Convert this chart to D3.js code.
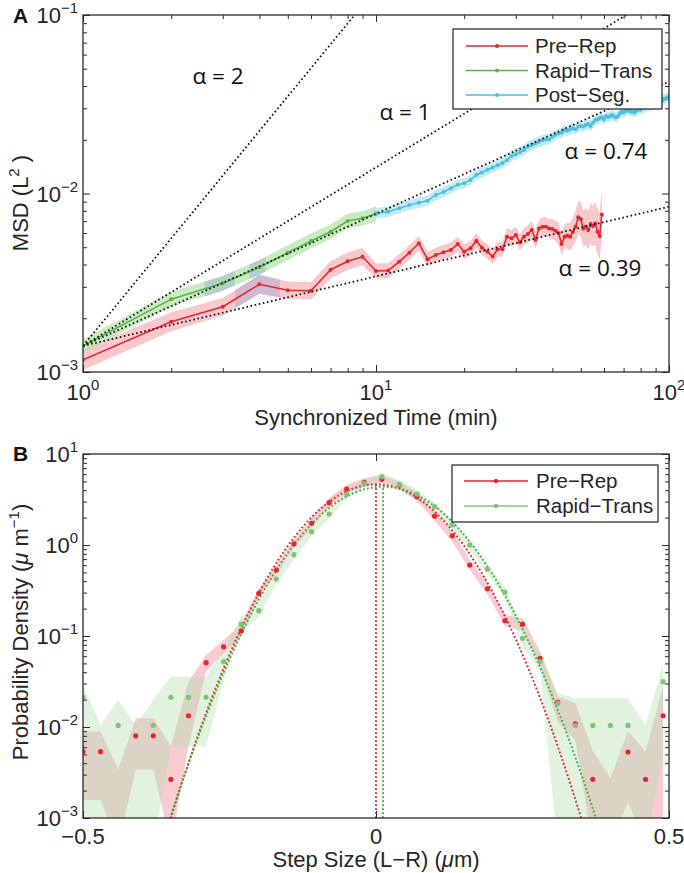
<!DOCTYPE html>
<html><head><meta charset="utf-8">
<script src="https://cdn.jsdelivr.net/npm/d3@7"></script>
<style>body{margin:0;background:#fff}</style>
</head><body>
<svg id="c" width="684" height="873"></svg>
<script>
// ================= DATA =================
// Panel A: MSD vs synchronized time (min)
const timePre = [1,2,3,4,5,6,7,8,9,10,11,12,13,14,15,16,17,18,19,20,21,22,23,24,25,26,27,28,29,30,31,32,33,34,35,36,37,38,39,40,41,42,43,44,45,46,47,48,49,50,51,52,53,54,55,56,57,58,59];
const msdPre = [1.17e-3,1.91e-3,2.32e-3,3.10e-3,2.87e-3,2.85e-3,3.74e-3,4.17e-3,4.42e-3,3.68e-3,
  3.70e-3,4.15e-3,4.66e-3,5.26e-3,4.28e-3,4.52e-3,4.69e-3,4.83e-3,5.21e-3,4.72e-3,
  4.93e-3,5.44e-3,4.97e-3,4.72e-3,4.43e-3,4.87e-3,4.87e-3,5.73e-3,5.62e-3,5.85e-3,
  5.33e-3,5.73e-3,5.93e-3,6.24e-3,5.51e-3,6.37e-3,6.52e-3,6.52e-3,6.37e-3,6.32e-3,
  6.19e-3,5.98e-3,5.21e-3,5.73e-3,5.80e-3,5.73e-3,6.11e-3,6.52e-3,7.35e-3,7.17e-3,
  6.37e-3,6.52e-3,6.24e-3,6.75e-3,6.58e-3,6.80e-3,6.11e-3,5.78e-3,7.63e-3];
const errPre = [0.14,0.13,0.12,0.13,0.12,0.12,0.12,0.12,0.12,0.1,0.1,0.1,0.1,0.1,0.1,0.1,0.1,0.1,0.1,0.1,
  0.1,0.1,0.1,0.1,0.1,0.1,0.1,0.11,0.11,0.11,0.11,0.12,0.12,0.12,0.12,0.12,0.13,0.13,0.13,0.14,
  0.14,0.15,0.16,0.17,0.18,0.2,0.2,0.22,0.24,0.25,0.26,0.27,0.28,0.3,0.3,0.32,0.34,0.35,0.36];

const timeRapid = [1,2,3,4,5,6,7,8,9,10];
const msdRapid = [1.40e-3,2.56e-3,3.14e-3,3.86e-3,4.66e-3,5.42e-3,6.11e-3,7.01e-3,7.26e-3,7.70e-3];
const errRapid = [0.09,0.1,0.1,0.1,0.1,0.1,0.1,0.1,0.1,0.1];

const timePost = [10,11,12,13,14,15,16,17,18,19,20,21,22,23,24,25,26,27,28,29,30,31,32,33,34,35,36,37,38,39,40,41,42,43,44,45,46,47,48,49,50,51,52,53,54,55,56,57,58,59,60,61,62,63,64,65,66,67,68,69,70,71,72,73,74,75,76,77,78,79,80,81,82,83,84,85,86,87,88,89,90,91,92,93,94,95,96,97,98,99,100];
const msdPost = [7.74e-3,7.91e-3,8.26e-3,8.63e-3,8.88e-3,9.12e-3,9.82e-3,1.02e-2,1.07e-2,1.12e-2,
  1.14e-2,1.19e-2,1.27e-2,1.31e-2,1.36e-2,1.40e-2,1.44e-2,1.48e-2,1.54e-2,1.62e-2,
  1.66e-2,1.71e-2,1.75e-2,1.83e-2,1.87e-2,1.91e-2,1.95e-2,1.99e-2,2.01e-2,2.01e-2,
  2.08e-2,2.13e-2,2.17e-2,2.19e-2,2.27e-2,2.25e-2,2.29e-2,2.32e-2,2.29e-2,2.37e-2,
  2.39e-2,2.37e-2,2.42e-2,2.45e-2,2.39e-2,2.49e-2,2.58e-2,2.60e-2,2.64e-2,2.67e-2,
  2.60e-2,2.72e-2,2.67e-2,2.72e-2,2.75e-2,2.69e-2,2.67e-2,2.72e-2,2.81e-2,2.87e-2,
  2.84e-2,2.91e-2,2.91e-2,2.96e-2,2.87e-2,2.91e-2,2.84e-2,2.89e-2,2.93e-2,2.98e-2,
  2.95e-2,3.00e-2,3.04e-2,3.02e-2,3.07e-2,3.10e-2,3.06e-2,3.12e-2,3.15e-2,3.13e-2,
  3.18e-2,3.22e-2,3.20e-2,3.26e-2,3.30e-2,3.33e-2,3.38e-2,3.40e-2,3.42e-2,3.46e-2,3.44e-2];
const errPost = 0.07;

// bluish tinted stretches of the shaded bands (time ranges, min)
const tintPre = [[3.3, 4.7]];
const tintRapid = [[2.6, 3.3], [3.7, 4.2]];

// power-law guides: MSD = c * t^alpha
const guideAlpha = [2, 1, 0.74, 0.39];
const guideLabels = ["α = 2", "α = 1", "α = 0.74", "α = 0.39"];
const guideC = 1.4e-3;

const legendA = ["Pre−Rep", "Rapid−Trans", "Post−Seg."];

// Panel B: step-size distributions
const stepBins = [-0.5,-0.47,-0.44,-0.41,-0.38,-0.35,-0.32,-0.29,-0.26,-0.23,-0.2,-0.17,-0.14,-0.11,-0.08,-0.05,-0.02,0.01,0.04,0.07,0.1,0.13,0.16,0.19,0.22,0.25,0.28,0.31,0.34,0.37,0.4,0.43,0.46,0.49];
const densPre = [5.36e-3,5.36e-3,null,8.0e-3,8.0e-3,2.66e-3,1.33e-2,5.09e-2,7.62e-2,0.114,0.294,0.531,1.03,1.73,2.92,4.12,4.88,5.27,4.56,3.40,2.08,1.26,0.603,0.330,0.147,0.135,0.0569,0.0187,0.0108,2.66e-3,null,5.31e-3,2.66e-3,1.33e-2];
const densPreLo = [1.58e-3,1.58e-3,5e-4,3.4e-3,3.4e-3,5e-4,6.1e-3,0.0406,0.0645,0.098,0.26,0.47,0.91,1.53,2.6,3.7,4.4,4.8,4.1,3.05,1.85,1.1,0.53,0.29,0.128,0.115,0.048,0.0115,7.2e-3,5e-4,5e-4,1.51e-3,5e-4,5e-4];
const densPreHi = [8.9e-3,8.9e-3,3.4e-3,1.25e-2,1.25e-2,6.1e-3,0.0315,0.0618,0.090,0.138,0.33,0.60,1.16,1.95,3.3,4.6,5.4,5.8,5.0,3.8,2.35,1.42,0.69,0.38,0.17,0.158,0.068,0.0216,0.0185,5.5e-3,2.73e-3,8.9e-3,5.36e-3,0.028];
const densRapid = [0.0212,null,0.0104,null,0.0104,0.0212,0.0212,0.0212,0.0523,0.135,0.190,0.423,0.782,1.40,2.19,3.61,4.77,5.64,4.65,3.63,2.64,1.66,1.00,0.543,0.302,0.0944,0.0523,0.0182,0.0104,0.0104,0.0104,0.0104,null,0.0315];
const densRapidLo = [5e-4,5e-4,5e-4,5e-4,5e-4,6.1e-3,6.1e-3,6.1e-3,0.033,0.11,0.16,0.37,0.69,1.25,1.95,3.25,4.3,5.1,4.2,3.25,2.35,1.48,0.89,0.48,0.26,0.075,0.042,5e-4,5e-4,5e-4,5e-4,5e-4,5e-4,0.005];
const densRapidHi = [0.029,0.0105,0.020,0.0105,0.020,0.0357,0.0357,0.0357,0.07,0.165,0.23,0.48,0.88,1.57,2.45,4.0,5.3,6.2,5.15,4.05,2.95,1.86,1.12,0.61,0.35,0.118,0.065,0.0238,0.0207,0.0207,0.0207,0.0207,0.0105,0.048];

// Gaussian fits: [amplitude, mean, sigma]
const fitPre = [4.64, 0.0, 0.0852];
const fitRapid = [4.37, 0.012, 0.0887];

const legendB = ["Pre−Rep", "Rapid−Trans"];

// ================= STYLE =================
const FONT = "'Liberation Sans', Arial, Helvetica, sans-serif";
const ANNOT = "'Open Sans', 'Liberation Sans', sans-serif";
const RED = "#e5262b", GREEN = "#56b34a", CYAN = "#4cc0dc";
const GREEN_B = "#7cc575";
const AXC = "#2b2b2b";
const TXT = "#262626";

const svg = d3.select("#c");
const defs = svg.append("defs");

function logTicks(lo, hi) {
  const major = [], minor = [];
  for (let e = Math.round(Math.log10(lo)); e <= Math.round(Math.log10(hi)); e++) {
    major.push(Math.pow(10, e));
    if (e < Math.round(Math.log10(hi))) for (let m = 2; m <= 9; m++) minor.push(m * Math.pow(10, e));
  }
  return {major, minor};
}

function drawFrame(g, x, y, xMajor, xMinor, yMajor, yMinor) {
  const [x0, x1] = x.range(), [y0, y1] = y.range();
  const mk = (axis, tr, vals, size) => g.append("g").attr("transform", tr)
      .call(axis.tickValues(vals).tickSizeInner(-size).tickSizeOuter(0).tickFormat(""))
      .call(s => { s.select(".domain").remove(); s.selectAll("line").attr("stroke", AXC).attr("stroke-width", 1); });
  mk(d3.axisBottom(x), `translate(0,${y0})`, xMajor, 7);
  mk(d3.axisTop(x), `translate(0,${y1})`, xMajor, 7);
  if (xMinor.length) {
    mk(d3.axisBottom(x), `translate(0,${y0})`, xMinor, 4);
    mk(d3.axisTop(x), `translate(0,${y1})`, xMinor, 4);
  }
  mk(d3.axisLeft(y), `translate(${x0},0)`, yMajor, 7);
  mk(d3.axisRight(y), `translate(${x1},0)`, yMajor, 7);
  mk(d3.axisLeft(y), `translate(${x0},0)`, yMinor, 4);
  mk(d3.axisRight(y), `translate(${x1},0)`, yMinor, 4);
  g.append("rect").attr("x", x0).attr("y", y1).attr("width", x1 - x0).attr("height", y0 - y1)
    .attr("fill", "none").attr("stroke", AXC).attr("stroke-width", 1.3);
}

function powLabel(g, xp, yp, exp, anchor) {
  const t = g.append("text").attr("x", xp).attr("y", yp).attr("text-anchor", anchor)
    .attr("font-family", FONT).attr("font-size", 22).attr("fill", TXT);
  t.append("tspan").text("10");
  t.append("tspan").attr("dy", -10).attr("font-size", 15).text(String(exp).replace("-", "−"));
}

// ================= PANEL A =================
const xA = d3.scaleLog().domain([1, 100]).range([83, 669]);
const yA = d3.scaleLog().domain([1e-3, 1e-1]).range([372, 15]);
const gA = svg.append("g");
defs.append("clipPath").attr("id", "clipA").append("rect")
  .attr("x", 83).attr("y", 15).attr("width", 586).attr("height", 357);
const pA = gA.append("g").attr("clip-path", "url(#clipA)");

const preA = timePre.map((t, i) => ({t, v: msdPre[i], e: errPre[i]}));
const rapA = timeRapid.map((t, i) => ({t, v: msdRapid[i], e: errRapid[i]}));
const postA = timePost.map((t, i) => ({t, v: msdPost[i], e: errPost}));

const bandA = d3.area().x(d => xA(d.t)).y0(d => yA(d.v / (1 + d.e))).y1(d => yA(d.v * (1 + d.e)));
pA.append("path").datum(preA).attr("d", bandA).attr("fill", "#f3a3ab").attr("opacity", 0.6);
pA.append("path").datum(rapA).attr("d", bandA).attr("fill", "#a6dc98").attr("opacity", 0.6);
pA.append("path").datum(postA).attr("d", bandA).attr("fill", "#9fdcec").attr("opacity", 0.6);

// bluish tinted stretches
[[tintPre, preA, "tp"], [tintRapid, rapA, "tr"]].forEach(([ranges, data, id]) => {
  ranges.forEach((r, j) => {
    const cid = `clip-${id}${j}`;
    defs.append("clipPath").attr("id", cid).append("rect")
      .attr("x", xA(r[0])).attr("y", 15).attr("width", xA(r[1]) - xA(r[0])).attr("height", 357);
    pA.append("g").attr("clip-path", `url(#${cid})`).append("path").datum(data).attr("d", bandA)
      .attr("fill", "#8c9ad6").attr("opacity", 0.35);
  });
});

const lineA = d3.line().x(d => xA(d.t)).y(d => yA(d.v));
[[preA, RED], [rapA, GREEN], [postA, CYAN]].forEach(([data, col]) => {
  pA.append("path").datum(data).attr("d", lineA).attr("fill", "none").attr("stroke", col).attr("stroke-width", 1.6);
  pA.selectAll(null).data(data).enter().append("circle")
    .attr("cx", d => xA(d.t)).attr("cy", d => yA(d.v)).attr("r", 2).attr("fill", col);
});

// guides
guideAlpha.forEach(a => {
  const ts = [1, 100];
  pA.append("path").datum(ts).attr("d", d3.line().x(t => xA(t)).y(t => yA(guideC * Math.pow(t, a))))
    .attr("fill", "none").attr("stroke", "#111").attr("stroke-width", 1.8).attr("stroke-dasharray", "1.6,2.6");
});
const guidePos = [[218, 84], [405, 120], [606, 159], [600, 276]];
guideLabels.forEach((s, i) => {
  gA.append("text").attr("x", guidePos[i][0]).attr("y", guidePos[i][1]).attr("text-anchor", "middle")
    .attr("font-family", ANNOT).attr("font-size", 22.5).attr("fill", "#111").text(s);
});

const tA = logTicks(1, 100), tAy = logTicks(1e-3, 1e-1);
drawFrame(gA, xA, yA, tA.major, tA.minor, tAy.major, tAy.minor);
tA.major.forEach(v => powLabel(gA, xA(v), 400, Math.round(Math.log10(v)), "middle"));
tAy.major.forEach(v => powLabel(gA, 78, yA(v) + 8, Math.round(Math.log10(v)), "end"));

// legend A
const lgA = gA.append("g");
lgA.append("rect").attr("x", 453).attr("y", 29).attr("width", 209).attr("height", 80)
  .attr("fill", "#fff").attr("stroke", "#222").attr("stroke-width", 1.2);
[RED, GREEN, CYAN].forEach((c, i) => {
  const yy = 46 + i * 24.5;
  lgA.append("line").attr("x1", 466).attr("x2", 528).attr("y1", yy).attr("y2", yy).attr("stroke", c).attr("stroke-width", 1.6);
  lgA.append("circle").attr("cx", 497).attr("cy", yy).attr("r", 2).attr("fill", c);
  lgA.append("text").attr("x", 535).attr("y", yy + 7).attr("font-family", FONT).attr("font-size", 20.5).attr("fill", TXT).text(legendA[i]);
});

// titles A
svg.append("text").attr("x", 376).attr("y", 425).attr("text-anchor", "middle").attr("font-family", FONT)
  .attr("font-size", 22).attr("fill", TXT).text("Synchronized Time (min)");
{
  const t = svg.append("text").attr("transform", "translate(28,203) rotate(-90)").attr("text-anchor", "middle")
    .attr("font-family", FONT).attr("font-size", 22).attr("fill", TXT);
  t.append("tspan").text("MSD (L");
  t.append("tspan").attr("dy", -9).attr("font-size", 15).text("2");
  t.append("tspan").attr("dy", 9).text(" )");
}
svg.append("text").attr("x", 13).attr("y", 23).attr("font-family", FONT).attr("font-weight", "bold")
  .attr("font-size", 21).attr("fill", "#111").text("A");

// ================= PANEL B =================
const xB = d3.scaleLinear().domain([-0.5, 0.5]).range([83, 669]);
const yB = d3.scaleLog().domain([1e-3, 1e1]).range([818, 454]);
const gB = svg.append("g");
defs.append("clipPath").attr("id", "clipB").append("rect")
  .attr("x", 83).attr("y", 454).attr("width", 586).attr("height", 364);
const pB = gB.append("g").attr("clip-path", "url(#clipB)");

const preB = stepBins.map((s, i) => ({s, v: densPre[i], lo: densPreLo[i], hi: densPreHi[i]}));
const rapB = stepBins.map((s, i) => ({s, v: densRapid[i], lo: densRapidLo[i], hi: densRapidHi[i]}));
const bandB = d3.area().x(d => xB(d.s)).y0(d => yB(d.lo)).y1(d => yB(d.hi));
pB.append("path").datum(preB).attr("d", bandB).attr("fill", "#f29aa6").attr("opacity", 0.5);
pB.append("path").datum(rapB).attr("d", bandB).attr("fill", "#b3dfb0").attr("opacity", 0.4);

// fits
const fitGrid = d3.range(-0.5, 0.5001, 0.004);
[[fitPre, RED], [fitRapid, "#3fae3a"]].forEach(([p, c]) => {
  const f = s => p[0] * Math.exp(-((s - p[1]) ** 2) / (2 * p[2] * p[2]));
  pB.append("path").datum(fitGrid.filter(s => f(s) > 5e-4))
    .attr("d", d3.line().x(s => xB(s)).y(s => yB(f(s))))
    .attr("fill", "none").attr("stroke", c).attr("stroke-width", 2).attr("stroke-dasharray", "1.8,2.2");
  pB.append("line").attr("x1", xB(p[1])).attr("x2", xB(p[1])).attr("y1", yB(1e-3)).attr("y2", yB(p[0]))
    .attr("stroke", c).attr("stroke-width", 2).attr("stroke-dasharray", "1.8,2.2");
});

pB.selectAll(null).data(preB.filter(d => d.v != null)).enter().append("circle")
  .attr("cx", d => xB(d.s)).attr("cy", d => yB(d.v)).attr("r", 2.6).attr("fill", RED);
pB.selectAll(null).data(rapB.filter(d => d.v != null)).enter().append("circle")
  .attr("cx", d => xB(d.s)).attr("cy", d => yB(d.v)).attr("r", 2.6).attr("fill", GREEN_B);

const tBy = logTicks(1e-3, 1e1);
drawFrame(gB, xB, yB, [-0.5, 0, 0.5], [], tBy.major, tBy.minor);
tBy.major.forEach(v => powLabel(gB, 78, yB(v) + 8, Math.round(Math.log10(v)), "end"));
[-0.5, 0, 0.5].forEach(v => gB.append("text").attr("x", xB(v)).attr("y", 844).attr("text-anchor", "middle")
  .attr("font-family", FONT).attr("font-size", 22).attr("fill", TXT).text(String(v).replace("-", "−")));

// legend B
const lgB = gB.append("g");
lgB.append("rect").attr("x", 452).attr("y", 465).attr("width", 206).attr("height", 57)
  .attr("fill", "#fff").attr("stroke", "#222").attr("stroke-width", 1.2);
[RED, GREEN_B].forEach((c, i) => {
  const yy = 481 + i * 25;
  lgB.append("line").attr("x1", 464).attr("x2", 528).attr("y1", yy).attr("y2", yy).attr("stroke", c).attr("stroke-width", 1.6);
  lgB.append("circle").attr("cx", 496).attr("cy", yy).attr("r", 2.2).attr("fill", c);
  lgB.append("text").attr("x", 536).attr("y", yy + 7).attr("font-family", FONT).attr("font-size", 20.5).attr("fill", TXT).text(legendB[i]);
});

// titles B
{
  const t = svg.append("text").attr("x", 376).attr("y", 867).attr("text-anchor", "middle")
    .attr("font-family", FONT).attr("font-size", 22).attr("fill", TXT);
  t.append("tspan").text("Step Size (L−R) (");
  t.append("tspan").attr("font-style", "italic").text("μ");
  t.append("tspan").text("m)");
}
{
  const t = svg.append("text").attr("transform", "translate(28,632) rotate(-90)").attr("text-anchor", "middle")
    .attr("font-family", FONT).attr("font-size", 22).attr("fill", TXT);
  t.append("tspan").text("Probability Density (");
  t.append("tspan").attr("font-style", "italic").text("μ");
  t.append("tspan").text(" m");
  t.append("tspan").attr("dy", -9).attr("font-size", 15).text("−1");
  t.append("tspan").attr("dy", 9).text(")");
}
svg.append("text").attr("x", 13).attr("y", 461).attr("font-family", FONT).attr("font-weight", "bold")
  .attr("font-size", 21).attr("fill", "#111").text("B");
</script>
</body></html>
